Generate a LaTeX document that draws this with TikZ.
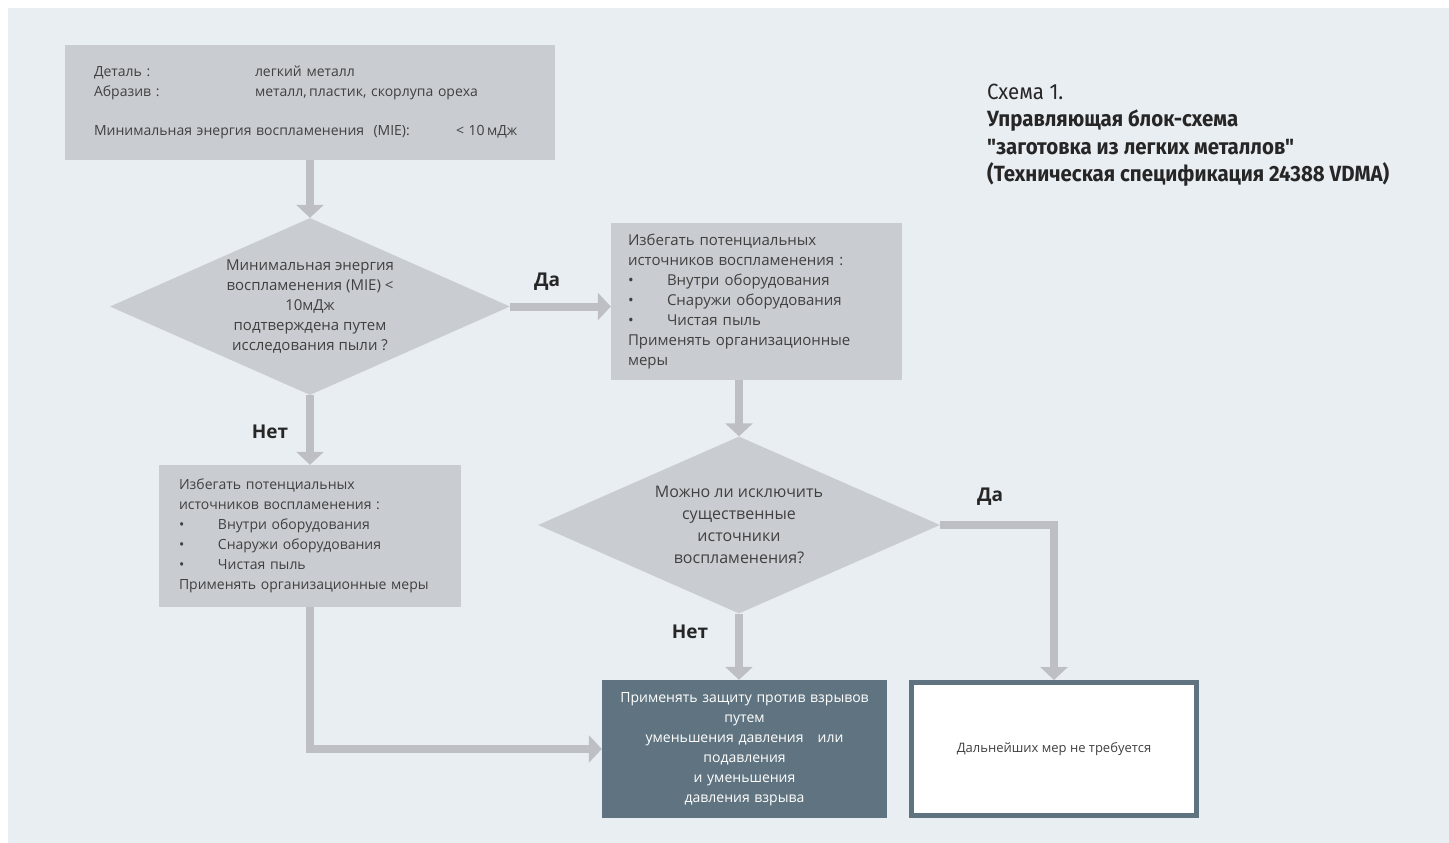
\documentclass[tikz,border=0pt]{standalone}
\usepackage{fontspec}
\setmainfont{Open Sans}
\newfontfamily\titlefont[FakeStretch=0.93]{Fira Sans}
\usetikzlibrary{shapes.geometric,arrows.meta,positioning}
\definecolor{panel}{RGB}{233,238,242}
\definecolor{boxgray}{RGB}{201,205,209}
\definecolor{flowgray}{RGB}{190,191,196}
\definecolor{slate}{RGB}{95,116,128}
\definecolor{ink}{RGB}{64,64,64}
\tikzset{
	block/.style={fill=boxgray,text=ink,inner ysep=0pt,align=left,font=\fontsize{14}{20}\selectfont},
	decision/.style={diamond,fill=boxgray,text=ink,inner sep=0pt,align=center},
	flow/.style={draw=flowgray,line width=8pt,-{Triangle[width=27pt,length=13pt]}},
	answer/.style={font=\bfseries\fontsize{19}{20}\selectfont,text=black!85}
}
\begin{document}
\begin{tikzpicture}[x=1pt,y=-1pt,line join=miter]
	\useasboundingbox (0,0) rectangle (1449,843);
	\fill[panel] (8,8) rectangle (1449,843);
	\node[block,minimum width=490pt,minimum height=115pt,text width=432pt,inner xsep=29pt] (spec) at (310,102.5)
		{\makebox[161pt][l]{Деталь :}легкий металл\\
		\makebox[161pt][l]{Абразив :}металл,\,пластик, скорлупа ореха\\[19pt]
		\makebox[362pt][l]{Минимальная энергия воспламенения\ \ (MIE):}< 10\,мДж};
	\node[decision,minimum width=400pt,minimum height=177pt,aspect=2.26,font=\fontsize{15}{20}\selectfont] (q1) at (310,306.5)
		{Минимальная энергия\\воспламенения (MIE) <\\10мДж\\подтверждена путем\\исследования пыли ?};
	\node[block,minimum width=291pt,minimum height=157pt,text width=257pt,inner xsep=17pt,font=\fontsize{15}{20}\selectfont] (act2) at (756.5,301.5)
		{Избегать потенциальных\\
		источников воспламенения :\\
		\makebox[39pt][l]{•}Внутри оборудования\\
		\makebox[39pt][l]{•}Снаружи оборудования\\
		\makebox[39pt][l]{•}Чистая пыль\\
		Применять организационные\\
		меры};
	\node[block,minimum width=302pt,minimum height=142pt,text width=262pt,inner xsep=20pt] (act1) at (310,536)
		{Избегать потенциальных\\
		источников воспламенения :\\
		\makebox[39pt][l]{•}Внутри оборудования\\
		\makebox[39pt][l]{•}Снаружи оборудования\\
		\makebox[39pt][l]{•}Чистая пыль\\
		Применять организационные меры};
	\node[decision,minimum width=402pt,minimum height=177pt,aspect=2.27,font=\fontsize{16}{22}\selectfont] (q2) at (739,525)
		{Можно ли исключить\\существенные\\источники\\воспламенения?};
	\node[fill=slate,text=white,align=center,text width=265pt,inner xsep=10pt,inner ysep=0pt,minimum height=138pt,font=\fontsize{14}{20}\selectfont] (protect) at (744.5,749)
		{Применять защиту против взрывов\\путем\\уменьшения давления\ \ \ или\\подавления\\и уменьшения\\давления взрыва};
	\node[draw=slate,line width=5pt,fill=white,text=ink,minimum width=285pt,minimum height=133pt,font=\fontsize{13}{16}\selectfont] (done) at (1054,749)
		{Дальнейших мер не требуется};
	\node[answer] (yes1) at (547,282) {Да};
	\node[answer] (no1) at (270,432) {Нет};
	\node[answer] (no2) at (690,632) {Нет};
	\node[answer] (yes2) at (990,497) {Да};
	\node[anchor=base west,align=left,inner sep=0pt,text=black!85,font=\titlefont\fontsize{22}{27.5}\selectfont] (title) at (987,181.5)
		{Схема 1.\\\textbf{Управляющая блок-схема}\\\textbf{"заготовка из легких металлов"}\\\textbf{(Техническая спецификация 24388 VDMA)}};
	\draw[flow] (spec) -- (q1);
	\draw[flow] (q1.east) -- (q1.east -| act2.west);
	\draw[flow] (act2.south -| q2.north) -- (q2.north);
	\draw[flow] (q1) -- (act1);
	\draw[flow] (q2.south) -- (q2.south |- protect.north);
	\draw[flow] (q2.east) -| (done.north);
	\draw[flow] (act1.south) |- (protect.west);
\end{tikzpicture}
\end{document}
